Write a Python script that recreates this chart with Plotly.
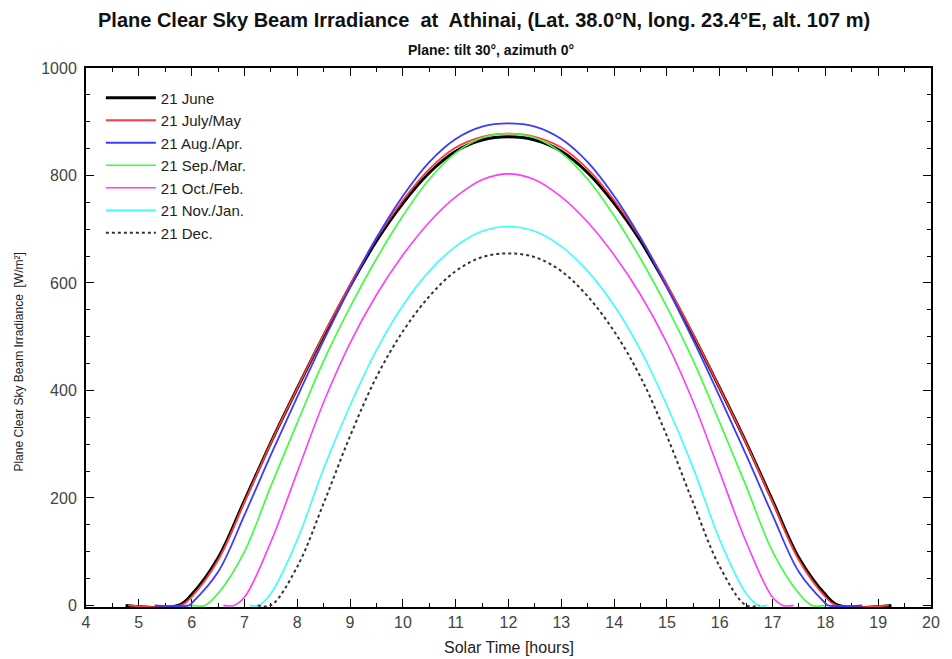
import plotly.graph_objects as go

# ---------------- data ----------------
series_names = ["21 June", "21 July/May", "21 Aug./Apr.", "21 Sep./Mar.",
                "21 Oct./Feb.", "21 Nov./Jan.", "21 Dec."]

june_t = [4.75, 5.75, 6.0, 6.5, 7.0, 7.5, 8.0, 8.5, 9.0, 9.5, 10.0, 10.5, 11.0, 11.5, 12.0,
          12.5, 13.0, 13.5, 14.0, 14.5, 15.0, 15.5, 16.0, 16.5, 17.0, 17.5, 18.0, 18.25, 19.25]
june_v = [0, 0, 20, 88, 195, 303, 404, 502, 594, 678, 748, 805, 845, 866, 872,
          866, 845, 805, 748, 678, 594, 502, 404, 303, 195, 88, 20, 0, 0]

julmay_t = [4.8, 5.8, 6.0, 6.5, 7.0, 7.5, 8.0, 8.5, 9.0, 9.5, 10.0, 10.5, 11.0, 11.5, 12.0,
            12.5, 13.0, 13.5, 14.0, 14.5, 15.0, 15.5, 16.0, 16.5, 17.0, 17.5, 18.0, 18.2, 19.2]
julmay_v = [0, 0, 16, 84, 192, 302, 404, 504, 597, 683, 754, 812, 852, 872, 878,
            872, 852, 812, 754, 683, 597, 504, 404, 302, 192, 84, 16, 0, 0]

augapr_t = [5.3, 5.95, 6.0, 6.5, 7.0, 7.5, 8.0, 8.5, 9.0, 9.5, 10.0, 10.5, 11.0, 11.5, 12.0,
            12.5, 13.0, 13.5, 14.0, 14.5, 15.0, 15.5, 16.0, 16.5, 17.0, 17.5, 18.0, 18.05, 18.7]
augapr_v = [0, 0, 4, 62, 168, 280, 388, 493, 592, 684, 762, 825, 868, 891, 897,
            891, 868, 825, 762, 684, 592, 493, 388, 280, 168, 62, 4, 0, 0]

sepmar_t = [6.0, 6.25, 6.5, 7.0, 7.5, 8.0, 8.5, 9.0, 9.5, 10.0, 10.5, 11.0, 11.5, 12.0,
            12.5, 13.0, 13.5, 14.0, 14.5, 15.0, 15.5, 16.0, 16.5, 17.0, 17.5, 17.75, 18.0]
sepmar_v = [0, 0, 22, 100, 222, 340, 455, 555, 645, 725, 793, 842, 870, 878,
            870, 842, 793, 725, 645, 555, 455, 340, 222, 100, 22, 0, 0]

octfeb_t = [6.6, 6.8, 7.0, 7.5, 8.0, 8.5, 9.0, 9.5, 10.0, 10.5, 11.0, 11.5, 12.0,
            12.5, 13.0, 13.5, 14.0, 14.5, 15.0, 15.5, 16.0, 16.5, 17.0, 17.2, 17.4]
octfeb_v = [0, 0, 15, 118, 248, 378, 488, 578, 652, 713, 760, 792, 803,
            792, 760, 713, 652, 578, 488, 378, 248, 118, 15, 0, 0]

novjan_t = [7.1, 7.27, 7.5, 8.0, 8.5, 9.0, 9.5, 10.0, 10.5, 11.0, 11.5, 12.0,
            12.5, 13.0, 13.5, 14.0, 14.5, 15.0, 15.5, 16.0, 16.5, 16.73, 16.9]
novjan_v = [0, 0, 22, 122, 255, 372, 475, 558, 622, 668, 696, 705,
            696, 668, 622, 558, 475, 372, 255, 122, 22, 0, 0]

dec_t = [7.25, 7.5, 8.0, 8.5, 9.0, 9.5, 10.0, 10.5, 11.0, 11.5, 12.0,
         12.5, 13.0, 13.5, 14.0, 14.5, 15.0, 15.5, 16.0, 16.5, 16.75]
dec_v = [0, 0, 72, 190, 315, 425, 510, 575, 622, 648, 655,
         648, 622, 575, 510, 425, 315, 190, 72, 0, 0]

x_ticks = list(range(4, 21))
y_ticks = [0, 200, 400, 600, 800, 1000]

# ---------------- figure ----------------
styles = [
    dict(color="#000000", width=3, dash="solid"),
    dict(color="#ff3b3b", width=1.8, dash="solid"),
    dict(color="#3b3bff", width=1.8, dash="solid"),
    dict(color="#3bff3b", width=1.6, dash="solid"),
    dict(color="#ff3bff", width=1.6, dash="solid"),
    dict(color="#3bffff", width=1.6, dash="solid"),
    dict(color="#333333", width=2, dash="dot"),
]
data = [(june_t, june_v), (julmay_t, julmay_v), (augapr_t, augapr_v), (sepmar_t, sepmar_v),
        (octfeb_t, octfeb_v), (novjan_t, novjan_v), (dec_t, dec_v)]

fig = go.Figure()
for name, (t, v), st in zip(series_names, data, styles):
    fig.add_trace(go.Scatter(x=t, y=v, mode="lines", name=name, line=st,
                             line_shape="spline", cliponaxis=False))

fam = "Liberation Sans, Arial, sans-serif"
axis_font = dict(family=fam, size=16, color="#444444")

# the page body has an 8px margin, so the figure is sized/offset to compensate
fig.update_layout(
    width=944, height=651,
    margin=dict(l=78, r=14, t=60, b=52),
    paper_bgcolor="white", plot_bgcolor="white",
    showlegend=True,
    legend=dict(x=0.0176, y=0.975, xanchor="left", yanchor="top",
                bgcolor="rgba(0,0,0,0)", itemwidth=50,
                font=dict(family=fam, size=15, color="#222222")),
    xaxis=dict(range=[4, 20], tickvals=x_ticks, ticktext=[str(v) for v in x_ticks],
               showgrid=False, zeroline=False, showline=True, linecolor="black", linewidth=2,
               mirror="allticks", ticks="inside", ticklen=8, tickwidth=1, tickcolor="black",
               tickfont=axis_font, layer="below traces",
               minor=dict(dtick=0.5, ticks="inside", ticklen=4, tickcolor="black", showgrid=False)),
    yaxis=dict(range=[-3, 1000], tickvals=y_ticks, ticktext=[str(v) for v in y_ticks],
               showgrid=False, zeroline=False, showline=True, linecolor="black", linewidth=2,
               mirror="allticks", ticks="inside", ticklen=8, tickwidth=1, tickcolor="black",
               tickfont=axis_font, ticklabelstandoff=4, layer="below traces",
               minor=dict(dtick=50, ticks="inside", ticklen=4, tickcolor="black", showgrid=False)),
)

fig.add_annotation(text="<b>Plane Clear Sky Beam Irradiance  at  Athinai, (Lat. 38.0°N, long. 23.4°E, alt. 107 m)</b>",
                   xref="paper", yref="paper", x=(487 - 86) / 852, y=(607 - 20) / 539,
                   xanchor="center", yanchor="middle", showarrow=False,
                   font=dict(family=fam, size=20, color="#111111"))
fig.add_annotation(text="<b>Plane: tilt 30°, azimuth 0°</b>",
                   xref="paper", yref="paper", x=(494 - 86) / 852, y=(607 - 50) / 539,
                   xanchor="center", yanchor="middle", showarrow=False,
                   font=dict(family=fam, size=14, color="#111111"))
fig.add_annotation(text="Plane Clear Sky Beam Irradiance  [W/m²]",
                   xref="paper", yref="paper", x=(18 - 86) / 852, y=(607 - 362) / 539,
                   xanchor="center", yanchor="middle", showarrow=False, textangle=-90,
                   font=dict(family=fam, size=12, color="#222222"))
fig.add_annotation(text="Solar Time [hours]",
                   xref="paper", yref="paper", x=0.5, y=(607 - 647) / 539,
                   xanchor="center", yanchor="middle", showarrow=False,
                   font=dict(family=fam, size=16, color="#222222"))

fig.write_html("out.html")
